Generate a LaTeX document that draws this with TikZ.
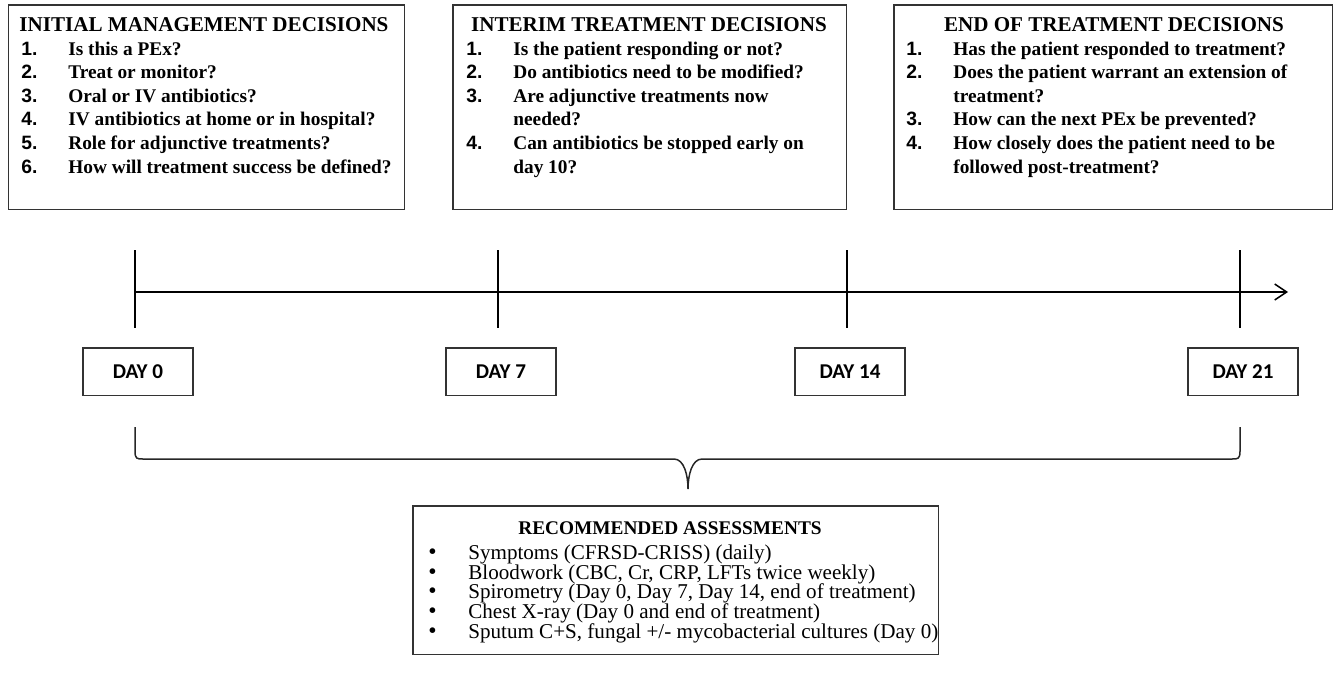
\documentclass[tikz,border=0pt]{standalone}
\usepackage{fontspec}
\setmainfont{Liberation Serif}
\newfontfamily\numfont{Liberation Sans}
\newfontfamily\dayfont{Carlito}
\usetikzlibrary{arrows.meta, positioning, calc}

\newcommand{\qitem}[2]{\makebox[0.94cm][l]{\numfont #1.}#2}
\newcommand{\qcont}[1]{\hspace*{0.94cm}#1}
\newcommand{\aitem}[1]{\makebox[0.8cm][l]{\smash{\fontsize{13.5}{13.5}\selectfont\textbullet}}#1}

\begin{document}
\begin{tikzpicture}[
    x=0.02cm, y=-0.02cm,
    panel/.style={rectangle, draw=black!80, line width=0.03cm, anchor=north west, minimum height=4.1cm, inner sep=0pt},
    heading/.style={anchor=base, inner sep=0pt, font=\fontsize{12}{13.4}\selectfont\bfseries},
    qlist/.style={anchor=north west, inner sep=0pt, align=left, font=\fontsize{11}{13.4}\selectfont\bfseries},
    alist/.style={anchor=north west, inner sep=0pt, align=left, font=\fontsize{12}{11.2}\selectfont},
    daybox/.style={rectangle, draw=black!80, line width=0.03cm, minimum width=2.2cm, minimum height=0.96cm, font=\dayfont\bfseries\fontsize{12}{14}\selectfont},
    tick/.style={line width=0.03cm},
    arrow/.style={-{Straight Barb[length=0.24cm, width=0.32cm]}, line width=0.03cm},
    brace/.style={line width=0.03cm, black!85}
]
\useasboundingbox (0,0) rectangle (1334,683);

% decision panels
\node[panel, minimum width=7.92cm] (initbox) at (8,4) {};
\node[panel, minimum width=7.88cm] (interbox) at (452,4) {};
\node[panel, minimum width=8.78cm] (endbox) at (893,4) {};

\node[heading] (initT) at (204,31) {INITIAL MANAGEMENT DECISIONS};
\node[heading] (interT) at (649,31) {INTERIM TREATMENT DECISIONS};
\node[heading] (endT) at (1114,31) {END OF TREATMENT DECISIONS};

\node[qlist] (initQ) at (21,41.6) {\qitem{1}{Is this a PEx?}\\
  \qitem{2}{Treat or monitor?}\\
  \qitem{3}{Oral or IV antibiotics?}\\
  \qitem{4}{IV antibiotics at home or in hospital?}\\
  \qitem{5}{Role for adjunctive treatments?}\\
  \qitem{6}{How will treatment success be defined?}};
\node[qlist] (interQ) at (466,41.6) {\qitem{1}{Is the patient responding or not?}\\
  \qitem{2}{Do antibiotics need to be modified?}\\
  \qitem{3}{Are adjunctive treatments now}\\
  \qcont{needed?}\\
  \qitem{4}{Can antibiotics be stopped early on}\\
  \qcont{day 10?}};
\node[qlist] (endQ) at (906,41.6) {\qitem{1}{Has the patient responded to treatment?}\\
  \qitem{2}{Does the patient warrant an extension of}\\
  \qcont{treatment?}\\
  \qitem{3}{How can the next PEx be prevented?}\\
  \qitem{4}{How closely does the patient need to be}\\
  \qcont{followed post-treatment?}};

% timeline
\foreach \x/\d in {135/0, 498/7, 847/14, 1240/21} {
  \coordinate (t\d) at (\x,292);
  \coordinate (t\d a) at (\x,250);
  \coordinate (t\d b) at (\x,328);
  \draw[tick] (t\d a) -- (t\d b);
  \node[daybox, below=0.38cm of t\d b, xshift=0.06cm] (day\d) {DAY \d};
}
\coordinate (tend) at (1288,292);
\draw[arrow] (t0) -- (tend);

% brace
\coordinate (bL) at (135,427);
\coordinate (bR) at (1240,427);
\coordinate (bM) at (688,489);
\draw[brace] (bL) -- ++(0,24) .. controls +(0,8) and +(-6,0) .. ++(8,8)
  -- ($(bM)+(-14,-30)$) .. controls +(10,0) and +(0,-14) .. (bM)
  .. controls +(0,-14) and +(-10,0) .. ($(bM)+(14,-30)$)
  -- ($(bR)+(-8,32)$) .. controls +(6,0) and +(0,8) .. ($(bR)+(0,24)$) -- (bR);

% assessments
\node[panel, minimum width=10.52cm, minimum height=2.98cm] (assessbox) at (412,505) {};
\node[heading, font=\fontsize{11}{11.2}\selectfont\bfseries] (assessT) at (670,534) {RECOMMENDED ASSESSMENTS};
\node[alist] (assessL) at (428,544.4) {\aitem{Symptoms (CFRSD-CRISS) (daily)}\\
  \aitem{Bloodwork (CBC, Cr, CRP, LFTs twice weekly)}\\
  \aitem{Spirometry (Day 0, Day 7, Day 14, end of treatment)}\\
  \aitem{Chest X-ray (Day 0 and end of treatment)}\\
  \aitem{Sputum C+S, fungal +/- mycobacterial cultures (Day 0)}};

\end{tikzpicture}
\end{document}
